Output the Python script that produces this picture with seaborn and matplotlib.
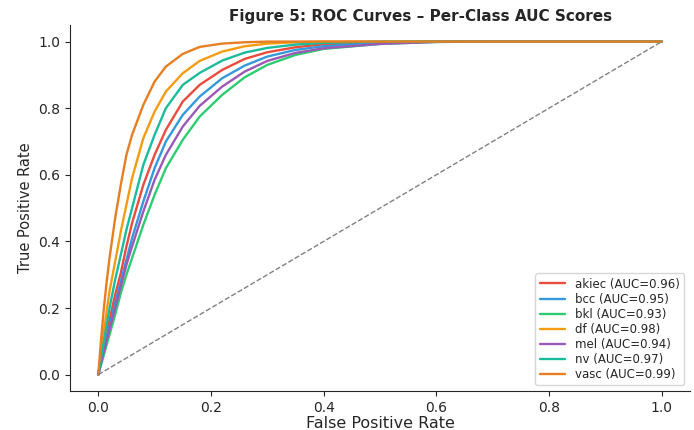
import numpy as np
import pandas as pd
import matplotlib
matplotlib.use('Agg')
import matplotlib.pyplot as plt
import seaborn as sns

classes = ['akiec', 'bcc', 'bkl', 'df', 'mel', 'nv', 'vasc']
auc_scores = [0.96, 0.95, 0.93, 0.98, 0.94, 0.97, 0.99]
colors = ['#e74c3c', '#3498db', '#2ecc71', '#f39c12', '#9b59b6', '#1abc9c', '#e67e22']

# false positive rate grid shared by all curves
fpr = [0.0, 0.005, 0.01, 0.015, 0.02, 0.03, 0.04, 0.05, 0.06, 0.08, 0.10, 0.12, 0.15, 0.18,
       0.22, 0.26, 0.30, 0.35, 0.40, 0.50, 0.60, 0.70, 1.0]

# true positive rates
tpr_akiec = [0.0, 0.043, 0.085, 0.126, 0.165, 0.24, 0.305, 0.385, 0.455, 0.57, 0.66, 0.735,
             0.82, 0.87, 0.915, 0.948, 0.968, 0.983, 0.992, 0.998, 1.0, 1.0, 1.0]
tpr_bcc = [0.0, 0.038, 0.075, 0.11, 0.145, 0.215, 0.28, 0.345, 0.41, 0.52, 0.62, 0.70,
           0.78, 0.835, 0.89, 0.928, 0.955, 0.975, 0.986, 0.996, 1.0, 1.0, 1.0]
tpr_bkl = [0.0, 0.03, 0.06, 0.09, 0.12, 0.18, 0.245, 0.30, 0.35, 0.45, 0.54, 0.62,
           0.705, 0.775, 0.84, 0.893, 0.93, 0.96, 0.978, 0.993, 0.999, 1.0, 1.0]
tpr_df = [0.0, 0.066, 0.13, 0.192, 0.25, 0.34, 0.43, 0.51, 0.59, 0.71, 0.79, 0.85,
          0.905, 0.942, 0.970, 0.986, 0.994, 0.998, 1.0, 1.0, 1.0, 1.0, 1.0]
tpr_mel = [0.0, 0.035, 0.07, 0.103, 0.135, 0.20, 0.265, 0.33, 0.385, 0.49, 0.585, 0.66,
           0.745, 0.807, 0.865, 0.91, 0.942, 0.966, 0.98, 0.993, 0.999, 1.0, 1.0]
tpr_nv = [0.0, 0.051, 0.10, 0.15, 0.20, 0.285, 0.36, 0.435, 0.50, 0.63, 0.72, 0.80,
          0.87, 0.906, 0.943, 0.967, 0.981, 0.991, 0.996, 1.0, 1.0, 1.0, 1.0]
tpr_vasc = [0.0, 0.105, 0.20, 0.28, 0.35, 0.47, 0.57, 0.66, 0.72, 0.81, 0.88, 0.925,
            0.963, 0.984, 0.994, 0.998, 1.0, 1.0, 1.0, 1.0, 1.0, 1.0, 1.0]

tpr_all = [tpr_akiec, tpr_bcc, tpr_bkl, tpr_df, tpr_mel, tpr_nv, tpr_vasc]

rows = []
for name, auc, tpr in zip(classes, auc_scores, tpr_all):
    label = '{} (AUC={:.2f})'.format(name, auc)
    for x, y in zip(fpr, tpr):
        rows.append({'fpr': x, 'tpr': y, 'label': label})
df = pd.DataFrame(rows)

sns.set_style('ticks')
plt.rcParams['font.family'] = ['DejaVu Sans']

fig, ax = plt.subplots(figsize=(6.94, 4.30), dpi=100)
fig.subplots_adjust(left=0.101, right=0.994, top=0.942, bottom=0.09)

sns.lineplot(data=df, x='fpr', y='tpr', hue='label', palette=colors,
             sort=False, estimator=None, linewidth=1.7, ax=ax)
ax.plot([0, 1], [0, 1], linestyle='--', color='gray', linewidth=1)

ax.set_xlabel('False Positive Rate', fontsize=11.5, labelpad=1)
ax.set_ylabel('True Positive Rate', fontsize=10.5)
ax.set_title('Figure 5: ROC Curves \u2013 Per-Class AUC Scores', fontsize=11,
             fontweight='bold', x=0.566, pad=3)
ax.tick_params(labelsize=10)
ax.legend(loc='lower right', fontsize=8.5, frameon=True, labelspacing=0.18,
          handlelength=2.2, borderpad=0.35)
sns.despine(ax=ax)

plt.savefig('out.png', dpi=100)
plt.close()
